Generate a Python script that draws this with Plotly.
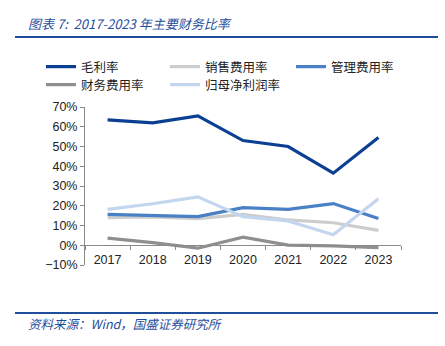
import plotly.graph_objects as go

years = ["2017", "2018", "2019", "2020", "2021", "2022", "2023"]
gross_margin = [63.5, 62.0, 65.5, 53.0, 50.0, 36.5, 54.5]
selling_exp = [14.0, 14.3, 13.5, 15.6, 12.8, 11.4, 7.5]
admin_exp = [15.6, 15.0, 14.5, 19.0, 18.2, 21.1, 13.5]
finance_exp = [3.6, 1.3, -1.5, 4.1, 0.1, -0.3, -1.2]
net_margin = [18.2, 21.0, 24.5, 14.5, 12.3, 5.3, 23.5]

series = [
    ("毛利率", gross_margin, "#0b3f93"),
    ("销售费用率", selling_exp, "#cdcdcd"),
    ("管理费用率", admin_exp, "#4a80c6"),
    ("财务费用率", finance_exp, "#8f8f8f"),
    ("归母净利润率", net_margin, "#c3d6ef"),
]

W, H = 445, 346
L, R, T, B = 85, 44, 107, 81
PW, PH = W - L - R, H - T - B

# legend entry slots (left px, row centre px)
slots = [(41, 67), (165, 67), (291, 67), (41, 85), (165, 85)]

fig = go.Figure()
legend_layouts = {}
for i, (name, vals, color) in enumerate(series):
    key = "legend" if i == 0 else f"legend{i + 1}"
    fig.add_trace(go.Scatter(x=years, y=vals, name=name, mode="lines",
                             legend=key, line=dict(color=color, width=3.2)))
    lx, ly = slots[i]
    legend_layouts[key] = dict(
        orientation="h", xref="paper", yref="paper",
        x=(lx - L) / PW, y=1 + (T - ly) / PH,
        xanchor="left", yanchor="middle",
        font=dict(family="Noto Sans CJK SC", size=12.5, color="#222222"),
        bgcolor="rgba(0,0,0,0)", borderwidth=0)

# helper trace carrying the zero-line axis
fig.add_trace(go.Scatter(x=years, y=[None] * len(years), xaxis="x2",
                         showlegend=False, hoverinfo="skip", mode="lines"))

tick_font = dict(family="Liberation Sans, Arial, sans-serif", size=12.5, color="#222222")

fig.update_layout(
    width=W, height=H,
    margin=dict(l=L, r=R, t=T, b=B),
    paper_bgcolor="white", plot_bgcolor="white",
    showlegend=True,
    xaxis=dict(type="category", categoryorder="array", categoryarray=years,
               range=[-0.5, len(years) - 0.5], showline=False, ticks="",
               anchor="free", position=0.094,
               showgrid=False, zeroline=False, tickfont=tick_font),
    xaxis2=dict(type="category", categoryorder="array", categoryarray=years,
                overlaying="x", anchor="free", position=0.125,
                range=[-0.5, len(years) - 0.5], showline=True, linecolor="#8a8a8a",
                linewidth=1, ticks="outside", ticklen=4, tickcolor="#8a8a8a",
                tickson="boundaries", showticklabels=False, showgrid=False,
                zeroline=False),
    yaxis=dict(range=[-10, 70], dtick=10, ticksuffix="%", showline=True,
               linecolor="#8a8a8a", linewidth=1, ticks="outside", ticklen=4,
               tickcolor="#8a8a8a", showgrid=False, zeroline=False,
               tickfont=tick_font),
    **legend_layouts,
)

title_color = "#1f4e9c"
fig.add_annotation(text="<i>图表 7:  2017-2023 年主要财务比率</i>",
                   xref="paper", yref="paper",
                   x=(26 - L) / PW, y=1 + (T - 23) / PH,
                   xanchor="left", yanchor="middle", showarrow=False,
                   font=dict(family="Noto Sans CJK SC", size=13, color=title_color))
fig.add_annotation(text="<i>资料来源：Wind，国盛证券研究所</i>",
                   xref="paper", yref="paper",
                   x=(26 - L) / PW, y=-(323 - (H - B)) / PH,
                   xanchor="left", yanchor="middle", showarrow=False,
                   font=dict(family="Noto Sans CJK SC", size=12.5, color=title_color))

for ypx in (37, 313):
    fig.add_shape(type="line", xref="paper", yref="paper",
                  x0=(15 - L) / PW, x1=(438 - L) / PW,
                  y0=1 - (ypx - T) / PH, y1=1 - (ypx - T) / PH,
                  line=dict(color=title_color, width=2))

fig.write_html("out.html")
